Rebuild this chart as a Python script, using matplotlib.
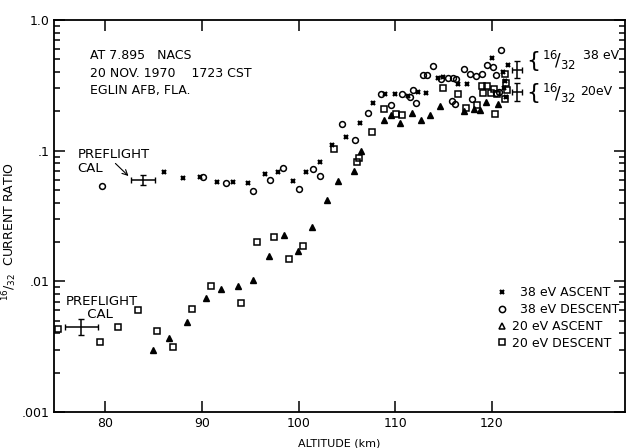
import numpy as np
import matplotlib
matplotlib.use('Agg')
import matplotlib.pyplot as plt
from matplotlib.lines import Line2D
from matplotlib.ticker import LogLocator, FixedLocator, NullFormatter

# 38 eV ascent (x)
alt_38a = [86.1, 88.0, 89.8, 91.6, 93.2, 94.8, 96.5, 97.9, 99.4, 100.8, 102.2, 103.5, 104.9,
           106.4, 107.7, 109.0, 110.0, 111.3, 112.4, 113.2, 114.4, 115.0, 116.5, 117.4, 120.0,
           121.2, 121.4, 121.3, 121.5, 121.7]
rat_38a = [0.069, 0.062, 0.063, 0.058, 0.058, 0.057, 0.066, 0.069, 0.059, 0.069, 0.082, 0.111, 0.128,
           0.164, 0.234, 0.270, 0.270, 0.265, 0.284, 0.279, 0.358, 0.365, 0.322, 0.322, 0.510,
           0.398, 0.345, 0.300, 0.260, 0.451]
# 38 eV descent (o)
alt_38d = [79.7, 90.1, 92.5, 95.3, 97.0, 98.4, 100.1, 101.5, 102.2, 104.5, 105.8, 107.2, 108.5,
           109.6, 110.7, 111.5, 111.9, 112.2, 112.9, 113.3, 113.9, 114.8, 115.5, 116.0, 116.3,
           115.9, 116.2, 117.1, 117.8, 118.4, 119.0, 118.0, 119.5, 120.1, 120.4, 121.0, 120.4, 120.8]
rat_38d = [0.054, 0.063, 0.057, 0.049, 0.060, 0.074, 0.051, 0.073, 0.064, 0.161, 0.122, 0.196, 0.270,
           0.226, 0.270, 0.260, 0.290, 0.234, 0.378, 0.378, 0.443, 0.352, 0.358, 0.358, 0.352,
           0.242, 0.230, 0.420, 0.384, 0.371, 0.384, 0.251, 0.451, 0.435, 0.378, 0.588, 0.279, 0.284]
# 20 eV ascent (triangles)
alt_20a = [84.9, 86.6, 88.5, 90.4, 92.0, 93.7, 95.3, 96.9, 98.5, 99.9, 101.4, 102.9, 104.1, 105.7,
           106.5, 108.8, 109.6, 110.5, 111.7, 112.7, 113.6, 114.6, 117.1, 118.2, 118.8, 119.4, 120.7]
rat_20a = [0.0030, 0.0037, 0.0049, 0.0075, 0.0087, 0.0093, 0.0102, 0.0158, 0.0226, 0.0170, 0.026,
           0.042, 0.059, 0.070, 0.100, 0.173, 0.189, 0.164, 0.196, 0.173, 0.189, 0.222, 0.200,
           0.210, 0.207, 0.238, 0.230]
# 20 eV descent (squares)
alt_20d = [75.1, 79.4, 81.3, 83.4, 85.3, 87.0, 89.0, 90.9, 94.0, 95.7, 97.5, 99.0, 100.5, 103.7,
           106.1, 106.3, 107.6, 108.9, 110.1, 110.7, 115.0, 116.5, 117.3, 118.5, 120.3, 119.0,
           119.5, 119.1, 119.9, 120.2, 120.6, 121.4, 121.5, 121.6, 121.4]
rat_20d = [0.00435, 0.00345, 0.00451, 0.0061, 0.0042, 0.00316, 0.0062, 0.0092, 0.0068, 0.020,
           0.0218, 0.0148, 0.0186, 0.104, 0.082, 0.088, 0.140, 0.210, 0.193, 0.189, 0.300, 0.270,
           0.214, 0.226, 0.193, 0.316, 0.316, 0.279, 0.279, 0.295, 0.270, 0.384, 0.333, 0.290, 0.251]

# preflight calibrations and 16/32 reference bars
cal_alt = [83.9, 77.5]
cal_rat = [0.060, 0.0045]
cal_xerr = [1.25, 1.7]
ref_alt = [122.6, 122.6]
ref_rat = [0.412, 0.284]
ref_lo = [0.048, 0.042]
ref_hi = [0.072, 0.049]

fig = plt.figure(figsize=(6.3, 4.48), dpi=100)
ax = fig.add_axes([0.086, 0.08, 0.906, 0.875])
ax.set_yscale('log')
ax.set_xlim(74.7, 133.8)
ax.set_ylim(0.001, 1.0)

k = 'black'
ax.plot(alt_38a, rat_38a, 'x', color=k, ms=3.2, mew=1.6)
ax.plot(alt_38d, rat_38d, 'o', mfc='none', mec=k, ms=4.2, mew=1.1)
ax.plot(alt_20a, rat_20a, '^', color=k, ms=3.8)
ax.plot(alt_20d, rat_20d, 's', mfc='none', mec=k, ms=3.8, mew=1.1)

ax.errorbar(cal_alt, cal_rat, xerr=cal_xerr, yerr=[[0.005, 0.0006], [0.005, 0.0007]],
            fmt='none', ecolor=k, elinewidth=1.1, capsize=2)
ax.errorbar(ref_alt, ref_rat, xerr=0.5, yerr=[ref_lo, ref_hi],
            fmt='none', ecolor=k, elinewidth=1.1, capsize=2)

fs = 9
ax.text(78.4, 0.60, 'AT 7.895   NACS\n20 NOV. 1970    1723 CST\nEGLIN AFB, FLA.',
        fontsize=fs, va='top', linespacing=1.45)
ax.annotate('PREFLIGHT\nCAL', xy=(82.6, 0.062), xytext=(77.1, 0.065), fontsize=9.5,
            va='bottom', linespacing=1.15,
            arrowprops=dict(arrowstyle='->', color=k, lw=0.8))
ax.text(75.9, 0.0050, 'PREFLIGHT\n     CAL', fontsize=9.5, va='bottom', linespacing=0.95)

ax.text(123.6, 0.49, '{', fontsize=16, va='center')
ax.text(125.2, 0.49, r'$^{16}\!/_{32}$', fontsize=12, va='center')
ax.text(129.5, 0.54, '38 eV', fontsize=fs, va='center')
ax.text(123.6, 0.275, '{', fontsize=16, va='center')
ax.text(125.2, 0.275, r'$^{16}\!/_{32}$', fontsize=12, va='center')
ax.text(129.2, 0.284, '20eV', fontsize=fs, va='center')

handles = [Line2D([], [], ls='none', marker='x', color=k, ms=3.2, mew=1.6),
           Line2D([], [], ls='none', marker='o', mfc='none', mec=k, ms=4.5, mew=1.1),
           Line2D([], [], ls='none', marker='^', mfc='none', mec=k, ms=4.5, mew=1.1),
           Line2D([], [], ls='none', marker='s', mfc='none', mec=k, ms=4, mew=1.1)]
labels = ['  38 eV ASCENT', '  38 eV DESCENT', '20 eV ASCENT', '20 eV DESCENT']
ax.legend(handles, labels, loc='center left', bbox_to_anchor=(0.765, 0.24), frameon=False,
          fontsize=fs, handlelength=0.8, handletextpad=0.4, labelspacing=0.3, borderpad=0)

ax.xaxis.set_major_locator(FixedLocator([80, 90, 100, 110, 120]))
ax.set_yticks([0.001, 0.01, 0.1, 1.0])
ax.set_yticklabels(['.001', '.01', '.1', '1.0'])
ax.yaxis.set_minor_locator(LogLocator(base=10, subs=np.arange(2, 10)))
ax.yaxis.set_minor_formatter(NullFormatter())
ax.tick_params(which='both', direction='in', top=True, right=True, labelsize=fs, width=1.1)
ax.tick_params(which='major', length=8)
ax.tick_params(which='minor', length=4)
for s in ax.spines.values():
    s.set_linewidth(1.3)

ax.set_xlabel('ALTITUDE (km)', fontsize=8, labelpad=6)
ax.set_ylabel(r'$^{16}/_{32}$  CURRENT RATIO', fontsize=9)
ax.yaxis.set_label_coords(-0.062, 0.46)

plt.savefig('out.png', dpi=100)
